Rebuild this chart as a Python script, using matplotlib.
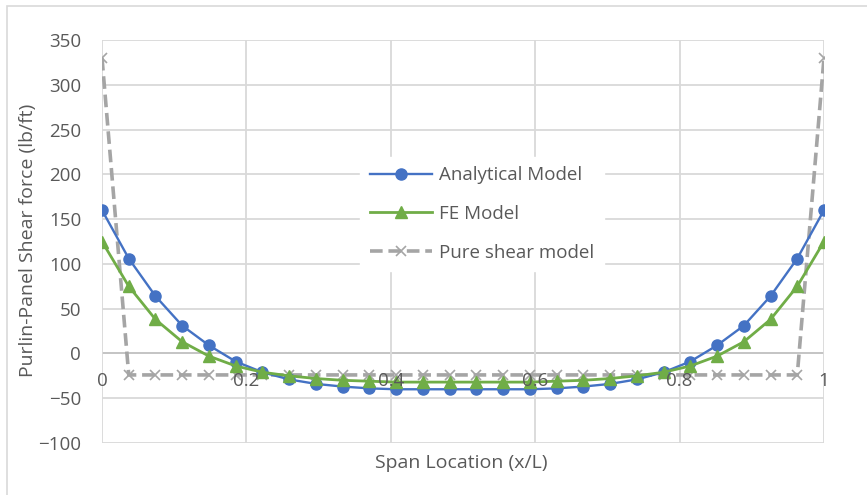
import numpy as np
import matplotlib
matplotlib.use("Agg")
import matplotlib.pyplot as plt
from matplotlib.patches import Rectangle

# span locations, 28 stations from 0 to 1
span = [i / 27 for i in range(28)]

analytical_half = [160, 106, 64, 31, 9, -9, -21, -29, -34, -37, -39, -40, -40, -40]
fe_half = [125, 75, 38, 13, -3, -14, -21, -25, -28, -30, -31, -32, -32, -32]
pure_shear_half = [330, -24, -24, -24, -24, -24, -24, -24, -24, -24, -24, -24, -24, -24]

analytical = analytical_half + analytical_half[::-1]
fe_model = fe_half + fe_half[::-1]
pure_shear = pure_shear_half + pure_shear_half[::-1]

x_ticks = [0, 0.2, 0.4, 0.6, 0.8, 1]
x_tick_labels = ['0', '0.2', '0.4', '0.6', '0.8', '1']
y_ticks = [-100, -50, 0, 50, 100, 150, 200, 250, 300, 350]

plt.rcParams['font.family'] = ['Open Sans', 'DejaVu Sans']
text_col = '#595959'
grid_col = '#d9d9d9'
fs_tick = 13.5
fs_title = 14

fig = plt.figure(figsize=(8.67, 4.95), dpi=100)
fig.patches.append(Rectangle((7 / 867, -0.1), 1.2, 1 - 6 / 495 + 0.1, transform=fig.transFigure,
                             fill=False, edgecolor='#d9d9d9', linewidth=1.2))

ax = fig.add_axes([102 / 867, 52 / 495, 722 / 867, 403 / 495])
ax.set_xlim(0, 1)
ax.set_ylim(-100, 350)

for y in y_ticks:
    ax.axhline(y, color='#bfbfbf' if y == 0 else grid_col, linewidth=1.3, zorder=0)
for x in x_ticks:
    ax.axvline(x, color=grid_col, linewidth=1.3, zorder=0)

ax.plot(span, analytical, color='#4472C4', linewidth=1.7, marker='o', markersize=8,
        label='Analytical Model', zorder=3)
ax.plot(span, fe_model, color='#70AD47', linewidth=2.0, marker='^', markersize=8,
        label='FE Model', zorder=3)
ax.plot(span, pure_shear, color='#A5A5A5', linewidth=2.6, dashes=(3.5, 1.6), marker='x',
        markersize=7, markeredgewidth=1.2, label='Pure shear model', zorder=2)

for s in ax.spines.values():
    s.set_visible(False)

ax.set_yticks(y_ticks)
ax.set_xticks(x_ticks)
ax.set_xticklabels([])
ax.tick_params(axis='both', length=0, labelsize=fs_tick, labelcolor=text_col, pad=15)
for x, lab in zip(x_ticks, x_tick_labels):
    ax.text(x, -30.5, lab, ha='center', va='center', fontsize=fs_tick, color=text_col, zorder=4)

fig.text(28 / 867, 1 - 240 / 495, 'Purlin-Panel Shear force (lb/ft)', rotation=90,
         ha='center', va='center', fontsize=fs_title, color=text_col)
fig.text(461 / 867, 1 - 463 / 495, 'Span Location (x/L)', ha='center', va='center',
         fontsize=fs_title, color=text_col)

leg = ax.legend(loc='center', bbox_to_anchor=(482 / 867, 1 - 214 / 495),
                bbox_transform=fig.transFigure, frameon=True, fancybox=False,
                edgecolor='white', framealpha=1, fontsize=fs_tick, labelspacing=1.1,
                handlelength=3.3, handletextpad=0.4, borderpad=0.5)
for t in leg.get_texts():
    t.set_color(text_col)

fig.savefig('out.png', dpi=100)
